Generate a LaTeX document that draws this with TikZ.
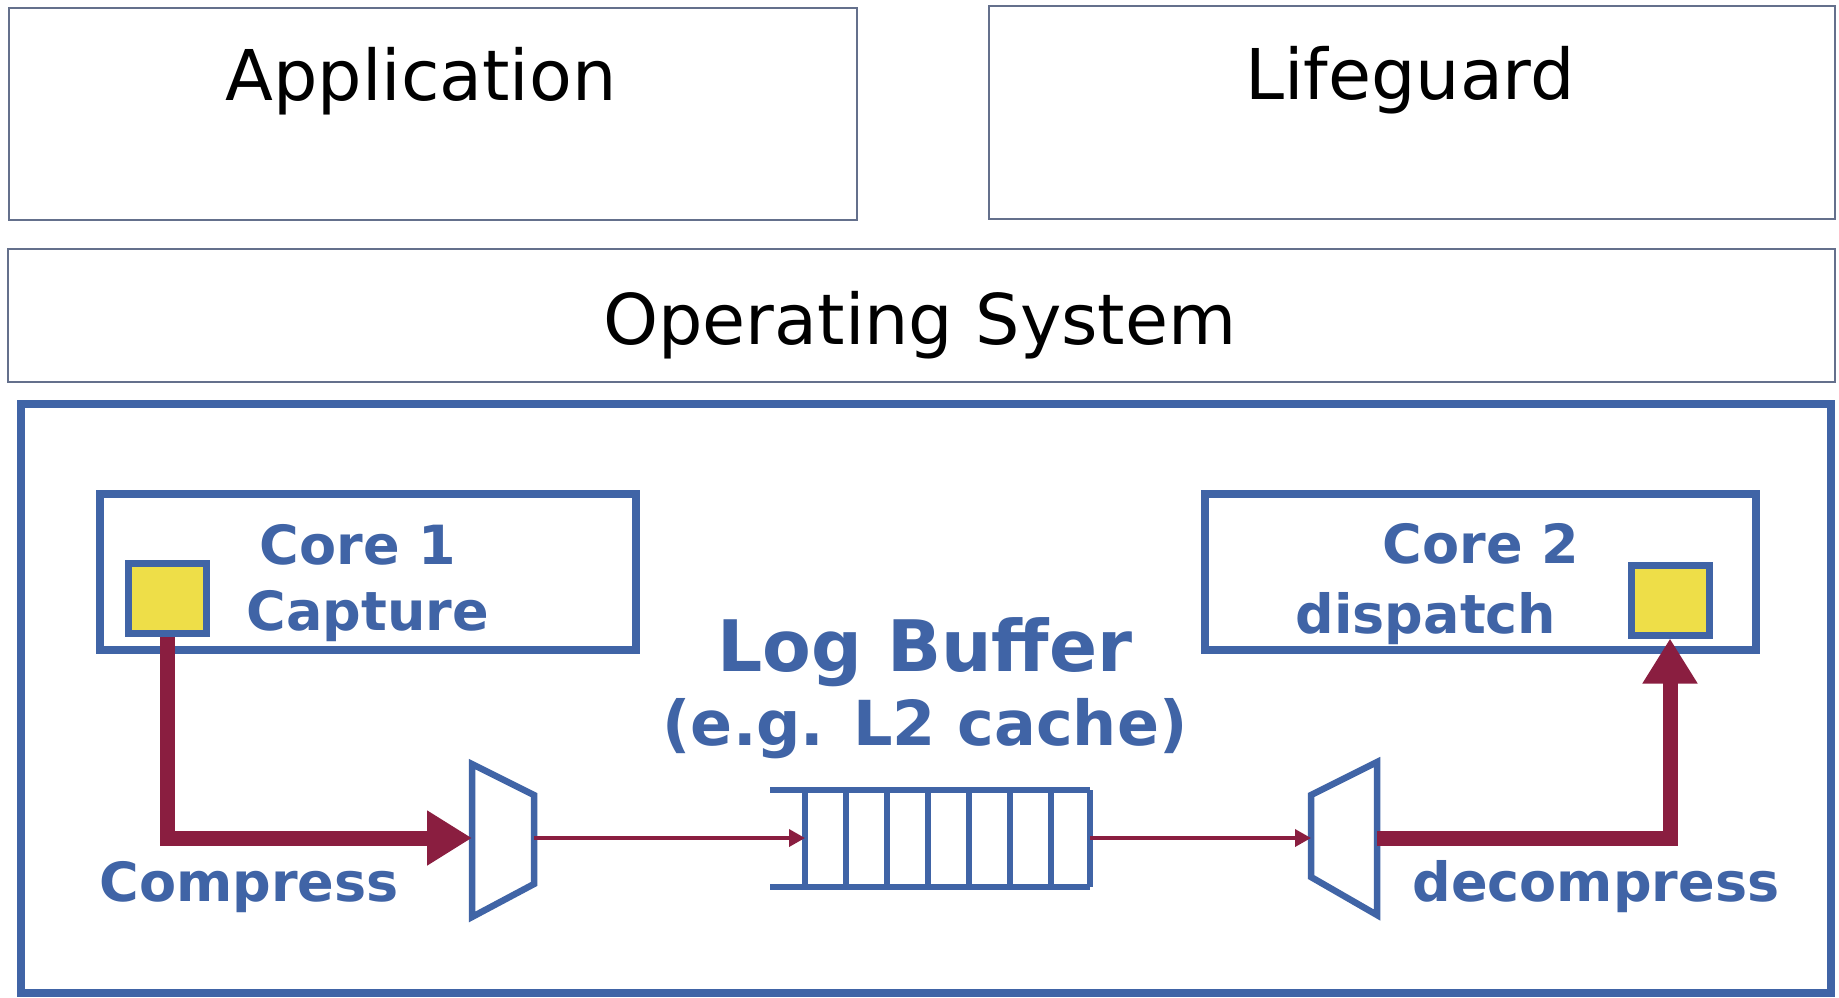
\documentclass[tikz,border=0pt]{standalone}
\usepackage{fontspec}
\setmainfont{DejaVu Sans}
\usetikzlibrary{arrows.meta}
\definecolor{cblue}{RGB}{64,100,166}
\definecolor{cmaroon}{RGB}{138,30,64}
\definecolor{cyellow}{RGB}{238,222,72}
\definecolor{cgray}{RGB}{100,112,140}
\begin{document}
\begin{tikzpicture}[x=1pt,y=-1pt,
  layerbox/.style={draw=cgray,line width=2.5pt},
  toptext/.style={anchor=base,inner sep=0pt,font=\fontsize{70}{80}\selectfont,text=black},
  bluetext/.style={anchor=base,inner sep=0pt,font=\fontsize{54}{60}\selectfont\bfseries,text=cblue},
  corebox/.style={draw=cblue,line width=8pt},
  regbox/.style={draw=cblue,fill=cyellow,line width=7pt},
  unitline/.style={draw=cblue,line width=6.5pt,line join=miter},
  thickflow/.style={draw=cmaroon,line width=15pt,line join=miter,-{Triangle[length=45pt,width=52pt]}},
  thinflow/.style={draw=cmaroon,line width=3.5pt,-{Triangle[length=16pt,width=17pt]}}]
\useasboundingbox (0,0) rectangle (1839,997);
\fill[white] (0,0) rectangle (1839,997);
% top layers
\draw[layerbox] (9,8) rectangle (857,220);
\node[toptext] (app) at (421,100) {Application};
\draw[layerbox] (989,6) rectangle (1835,219);
\node[toptext] (lg) at (1410,99) {Lifeguard};
\draw[layerbox] (8,249) rectangle (1835,382);
\node[toptext] (os) at (920,344) {Operating System};
% hardware box
\draw[draw=cblue,line width=8pt] (21,404) rectangle (1831,993);
% cores
\draw[corebox] (100,494) rectangle (636,650);
\node[bluetext] (c1a) at (358,564) {Core 1};
\node[bluetext] (c1b) at (368,630) {Capture};
\draw[corebox] (1205,494) rectangle (1756,650);
\node[bluetext] (c2a) at (1481,563) {Core 2};
\node[bluetext] (c2b) at (1426,633) {dispatch};
\node[regbox,minimum width=78pt,minimum height=70pt,inner sep=0pt] (sq1) at (167.5,598.5) {};
\node[regbox,minimum width=78pt,minimum height=70pt,inner sep=0pt] (sq2) at (1670,600) {};
% log buffer
\node[anchor=base,inner sep=0pt,font=\fontsize{71}{80}\selectfont\bfseries,text=cblue] (lb1) at (925,671) {Log Buffer};
\node[anchor=base,inner sep=0pt,font=\fontsize{62}{70}\selectfont\bfseries,text=cblue] (lb2) at (925,745) {(e.g. L2 cache)};
\draw[unitline] (770,790) -- (1090,790);
\draw[unitline] (770,887) -- (1090,887);
\foreach \x in {805,846,887,928,969,1010,1051,1090} \draw[unitline] (\x,790) -- (\x,887);
\coordinate (bufin) at (805,838);
\coordinate (bufout) at (1090,838);
% compressor
\draw[unitline] (472,764) -- (534,795) -- (534,884) -- (472,917) -- cycle;
\coordinate (cmpin) at (472,838);
\coordinate (cmpout) at (534,838);
% decompressor
\draw[unitline] (1311,795) -- (1377,762) -- (1377,915) -- (1311,877) -- cycle;
\coordinate (dcmpin) at (1311,838);
\coordinate (dcmpout) at (1377,838);
% flows
\draw[thickflow] (sq1.south) |- (cmpin);
\draw[thinflow] (cmpout) -- (bufin);
\draw[thinflow] (bufout) -- (dcmpin);
\draw[thickflow] (dcmpout) -| (sq2.south);
\node[bluetext] (cmp) at (249,901) {Compress};
\node[bluetext] (dcmp) at (1596,901) {decompress};
\end{tikzpicture}
\end{document}
